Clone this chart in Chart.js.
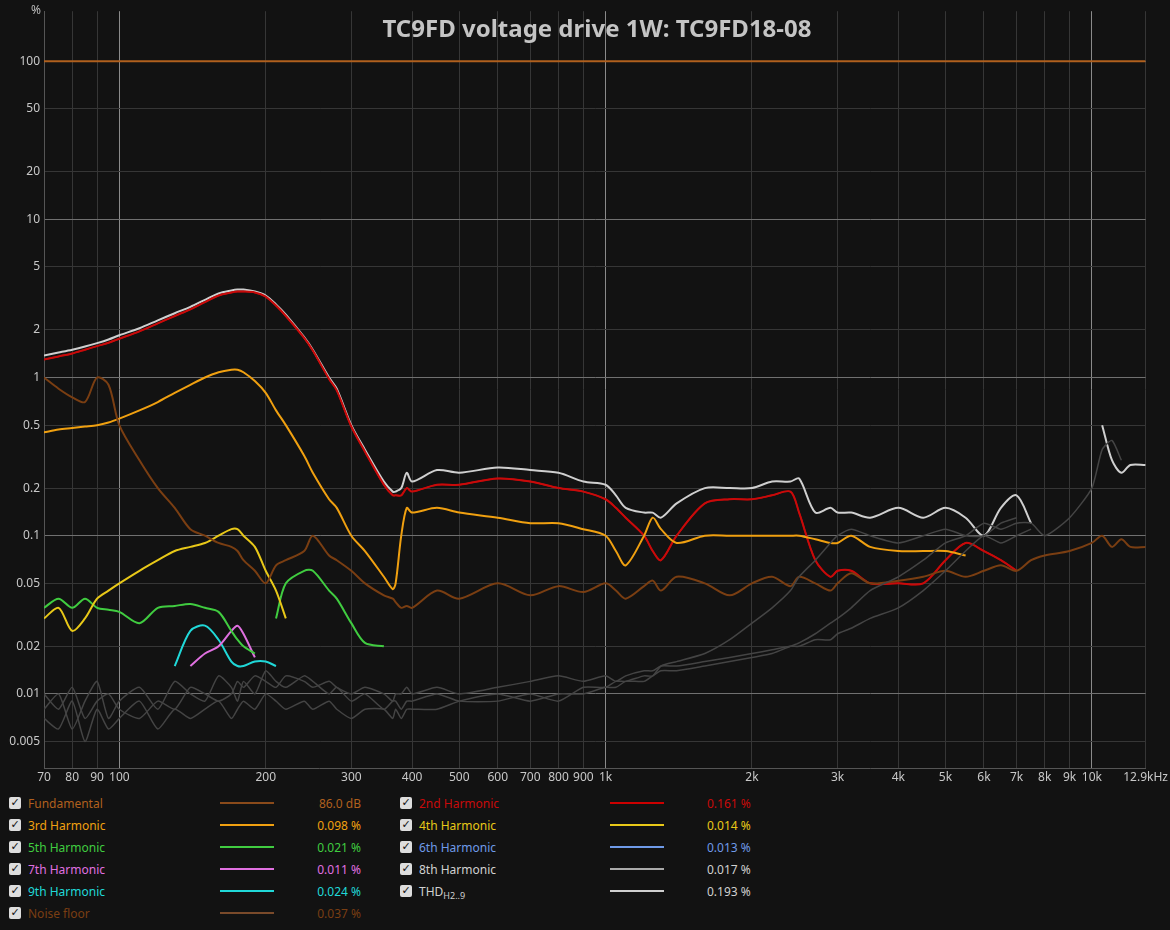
<!DOCTYPE html>
<html><head><meta charset="utf-8">
<script src="https://cdn.jsdelivr.net/npm/chart.js@4"></script>
<style>
body{margin:0;background:#121212;width:1170px;height:930px;overflow:hidden;font-family:"Noto Sans",sans-serif;}
#wrap{position:absolute;left:0;top:0;width:1170px;height:790px;}
#title{position:absolute;left:0;width:1194px;top:11px;text-align:center;color:#c4c4c4;font:bold 24px "Noto Sans";}
#pct{position:absolute;left:31px;top:1px;color:#bbb;font:12px "Noto Sans";}
.row{position:absolute;font:12px "Noto Sans";height:16px;}
.cb{position:absolute;width:12px;height:12px;background:#ddd;border-radius:2px;color:#111;font:bold 11px "DejaVu Sans";line-height:12px;text-align:center;}
.ln{position:absolute;height:2px;width:54px;}
</style></head><body>
<div id="wrap"><canvas id="c" width="1170" height="790"></canvas></div>
<div id="title">TC9FD voltage drive 1W: TC9FD18-08</div>
<div id="pct">%</div>
<div id="legend"></div>
<script>
const freqs = [70,75,80,85,90,95,100,110,120,130,140,150,160,170,175,180,190,200,210,220,240,250,270,280,300,320,350,365,370,380,390,400,450,500,600,700,800,900,1000,1050,1100,1200,1250,1300,1400,1600,1800,2000,2200,2400,2500,2700,2900,3000,3200,3500,4000,4500,5000,5500,6000,6500,7000,7500,8000,9000,10000,10500,11000,11500,12000,12900];
const fundamental = freqs.map(()=>100);
const thd = [1.38,1.44,1.5,1.57,1.65,1.74,1.85,2.05,2.3,2.55,2.8,3.1,3.4,3.55,3.6,3.6,3.5,3.3,2.9,2.5,1.8,1.5,1.0,0.85,0.5,0.35,0.22,0.19,0.19,0.2,0.25,0.22,0.26,0.25,0.27,0.26,0.25,0.22,0.21,0.18,0.15,0.14,0.14,0.13,0.16,0.2,0.2,0.2,0.22,0.22,0.23,0.14,0.15,0.14,0.14,0.13,0.15,0.13,0.15,0.13,0.1,0.15,0.18,0.12,null,null,null,0.5,0.3,0.25,0.28,0.28];
const h2 = [1.3,1.36,1.42,1.5,1.58,1.66,1.76,1.96,2.2,2.45,2.7,3.0,3.3,3.45,3.5,3.5,3.45,3.25,2.85,2.45,1.78,1.48,0.98,0.83,0.49,0.34,0.21,0.18,0.18,0.18,0.2,0.19,0.21,0.21,0.23,0.22,0.2,0.19,0.17,0.15,0.13,0.1,0.08,0.07,0.1,0.16,0.17,0.17,0.18,0.19,0.14,0.07,0.055,0.06,0.06,0.05,0.05,0.05,0.07,0.09,0.08,0.07,0.06,null,null,null,null,null,null,null,null,null];
const h3 = [0.45,0.47,0.48,0.49,0.5,0.52,0.55,0.62,0.7,0.8,0.9,1.0,1.08,1.12,1.12,1.08,0.95,0.8,0.62,0.5,0.32,0.25,0.17,0.15,0.1,0.08,0.055,0.046,0.05,0.1,0.15,0.14,0.15,0.14,0.13,0.12,0.12,0.11,0.1,0.08,0.065,0.1,0.13,0.11,0.09,0.1,0.1,0.1,0.1,0.1,0.1,0.095,0.09,0.09,0.1,0.085,0.08,0.08,0.08,0.075,null,null,null,null,null,null,null,null,null,null,null,null];
const h4 = [0.03,0.035,0.025,0.03,0.04,0.045,0.05,0.06,0.07,0.08,0.085,0.09,0.1,0.11,0.11,0.1,0.085,0.06,0.045,0.03,null,null,null,null,null,null,null,null,null,null,null,null,null,null,null,null,null,null,null,null,null,null,null,null,null,null,null,null,null,null,null,null,null,null,null,null,null,null,null,null,null,null,null,null,null,null,null,null,null,null,null,null];
const h5 = [0.035,0.04,0.035,0.04,0.035,0.034,0.033,0.028,0.035,0.036,0.037,0.035,0.033,0.025,0.022,0.02,0.018,null,0.03,0.05,0.06,0.06,0.045,0.04,0.028,0.021,0.02,null,null,null,null,null,null,null,null,null,null,null,null,null,null,null,null,null,null,null,null,null,null,null,null,null,null,null,null,null,null,null,null,null,null,null,null,null,null,null,null,null,null,null,null,null];
const h6 = freqs.map(()=>null);
const h7 = [null,null,null,null,null,null,null,null,null,null,0.015,0.018,0.02,0.025,0.027,0.024,0.017,null,null,null,null,null,null,null,null,null,null,null,null,null,null,null,null,null,null,null,null,null,null,null,null,null,null,null,null,null,null,null,null,null,null,null,null,null,null,null,null,null,null,null,null,null,null,null,null,null,null,null,null,null,null,null];
const h9 = [null,null,null,null,null,null,null,null,null,0.015,0.025,0.027,0.022,0.016,0.015,0.015,0.016,0.016,0.015,null,null,null,null,null,null,null,null,null,null,null,null,null,null,null,null,null,null,null,null,null,null,null,null,null,null,null,null,null,null,null,null,null,null,null,null,null,null,null,null,null,null,null,null,null,null,null,null,null,null,null,null,null];
const noise = [1.0,0.85,0.75,0.7,1.0,0.9,0.5,0.3,0.2,0.15,0.11,0.1,0.09,0.085,0.08,0.07,0.06,0.05,0.065,0.07,0.08,0.1,0.075,0.07,0.06,0.05,0.042,0.04,0.038,0.035,0.036,0.035,0.045,0.04,0.05,0.042,0.048,0.044,0.05,0.045,0.04,0.048,0.052,0.045,0.055,0.05,0.042,0.05,0.055,0.048,0.055,0.05,0.045,0.05,0.058,0.05,0.052,0.055,0.06,0.055,0.06,0.065,0.06,0.07,0.075,0.08,0.09,0.1,0.085,0.095,0.085,0.085];
const gray1 = [0.008,0.01,0.006,0.009,0.012,0.007,0.009,0.011,0.008,0.012,0.01,0.009,0.013,0.011,0.009,0.012,0.01,0.014,0.012,0.011,0.013,0.012,0.01,0.011,0.009,0.01,0.008,0.009,0.009,0.008,0.009,0.009,0.01,0.009,0.009,0.01,0.009,0.011,0.011,0.012,0.012,0.013,0.013,0.015,0.016,0.018,0.022,0.028,0.035,0.045,0.055,0.07,0.09,0.1,0.11,0.1,0.09,0.1,0.11,0.1,0.1,0.12,0.13,null,null,null,null,null,null,null,null,null];
const gray2 = [0.007,0.006,0.009,0.005,0.008,0.006,0.007,0.009,0.006,0.008,0.007,0.008,0.009,0.007,0.008,0.009,0.008,0.01,0.009,0.008,0.009,0.008,0.009,0.008,0.007,0.008,0.008,0.007,0.008,0.007,0.008,0.008,0.008,0.009,0.01,0.009,0.01,0.01,0.011,0.011,0.012,0.012,0.013,0.014,0.014,0.015,0.016,0.017,0.018,0.02,0.021,0.024,0.028,0.03,0.035,0.045,0.055,0.07,0.09,0.1,0.12,0.11,0.12,0.12,0.1,0.13,0.2,0.35,0.4,0.3,null,null];
const gray3 = [0.01,0.008,0.011,0.007,0.009,0.01,0.008,0.007,0.009,0.008,0.011,0.01,0.009,0.01,0.012,0.011,0.013,0.012,0.011,0.013,0.012,0.011,0.012,0.011,0.01,0.011,0.01,0.009,0.01,0.01,0.011,0.01,0.011,0.01,0.011,0.012,0.013,0.012,0.013,0.012,0.013,0.014,0.014,0.015,0.015,0.016,0.017,0.018,0.019,0.02,0.02,0.022,0.022,0.024,0.026,0.03,0.035,0.045,0.06,0.08,0.1,0.09,0.1,0.11,null,null,null,null,null,null,null,null];
const yTicks = [0.005,0.01,0.02,0.05,0.1,0.2,0.5,1,2,5,10,20,50,100];
const xTicks = [70,80,90,100,200,300,400,500,600,700,800,900,1000,2000,3000,4000,5000,6000,7000,8000,9000,10000,12900];
const xLabels = ["70","80","90","100","200","300","400","500","600","700","800","900","1k","2k","3k","4k","5k","6k","7k","8k","9k","10k","12.9kHz"];

const series = [
 {name:"Fundamental",data:fundamental,color:"#b0601e",val:"86.0 dB",lc:"#8a4a1a"},
 {name:"2nd Harmonic",data:h2,color:"#c80a0a",val:"0.161 %",lc:"#c00"},
 {name:"3rd Harmonic",data:h3,color:"#f0a010",val:"0.098 %"},
 {name:"4th Harmonic",data:h4,color:"#e8c818",val:"0.014 %"},
 {name:"5th Harmonic",data:h5,color:"#40cc40",val:"0.021 %"},
 {name:"6th Harmonic",data:h6,color:"#6f9ae8",val:"0.013 %"},
 {name:"7th Harmonic",data:h7,color:"#e070e0",val:"0.011 %"},
 {name:"8th Harmonic",data:gray3,color:"#aaaaaa",val:"0.017 %"},
 {name:"9th Harmonic",data:h9,color:"#20d8d8",val:"0.024 %"},
 {name:"THD",data:thd,color:"#cfcfcf",val:"0.193 %"},
 {name:"Noise floor",data:noise,color:"#7a3e12",val:"0.037 %",lc:"#7a4a2a"}
];
const ds = [];
const grays=[gray1,gray2,gray3];
grays.forEach(g=>ds.push({data:freqs.map((f,i)=>({x:f,y:g[i]})),borderColor:"#444",borderWidth:1.5,pointRadius:0,tension:0.2}));
[10,2,3,4,6,8,5,1,9,0].forEach(k=>{const s=series[k];if(k===7)return;
 ds.push({data:freqs.map((f,i)=>({x:f,y:s.data[i]})),borderColor:s.color,borderWidth:2,pointRadius:0,tension:0.3,spanGaps:false});});
ds.push({data:freqs.map((f,i)=>({x:f,y:h2[i]})),borderColor:"#c80a0a",borderWidth:1.5,pointRadius:0,tension:0.3});

new Chart(document.getElementById('c'),{type:'line',data:{datasets:ds},
options:{responsive:false,animation:false,layout:{padding:{top:10,right:20,left:0,bottom:0}},
plugins:{legend:{display:false},tooltip:{enabled:false}},
scales:{
 x:{type:'logarithmic',min:70,max:12900,afterFit:a=>{a.height=22;},
  afterBuildTicks:a=>{a.ticks=xTicks.map(v=>({value:v}));},
  ticks:{autoSkip:false,maxRotation:0,color:'#c8c8c8',font:{size:12,family:'Noto Sans'},padding:2,callback:(v)=>xLabels[xTicks.indexOf(v)]},
  grid:{color:c=>[100,1000,10000].includes(c.tick&&c.tick.value)?'#8a8a8a':'#363636',lineWidth:1,drawTicks:false},border:{color:'#555'}},
 y:{type:'logarithmic',min:0.0034,max:207,afterFit:a=>{a.width=44;},
  afterBuildTicks:a=>{a.ticks=yTicks.map(v=>({value:v}));},
  ticks:{color:'#c8c8c8',font:{size:12,family:'Noto Sans'},padding:4,callback:v=>String(v)},
  grid:{color:c=>[0.01,0.1,1,10,100].includes(c.tick&&c.tick.value)?'#707070':'#363636',drawTicks:false},border:{color:'#555'}}
}}});

const order=[[0,1],[2,3],[4,5],[6,7],[8,9],[10,null]];
let html="";
order.forEach((r,ri)=>{const y=795+ri*22;
 r.forEach((k,ci)=>{if(k===null)return;const s=series[k];const bx=ci?400:9;
  const lab = k===9?'THD<sub style="font-size:9px">H2..9</sub>':s.name;
  const txtc = (k===7||k===9)?'#d0d0d0':s.color;
  html+=`<div class="cb" style="left:${bx}px;top:${y+2}px">✓</div>`;
  html+=`<div class="row" style="left:${bx+19}px;top:${y}px;color:${txtc}">${lab}</div>`;
  html+=`<div class="ln" style="left:${ci?610:220}px;top:${y+7}px;background:${s.lc||s.color}"></div>`;
  html+=ci?`<div class="row" style="left:707px;top:${y}px;color:${txtc}">${s.val}</div>`
          :`<div class="row" style="left:260px;width:101px;text-align:right;top:${y}px;color:${txtc}">${s.val}</div>`;
 });});
document.getElementById('legend').innerHTML=html;
</script></body></html>
